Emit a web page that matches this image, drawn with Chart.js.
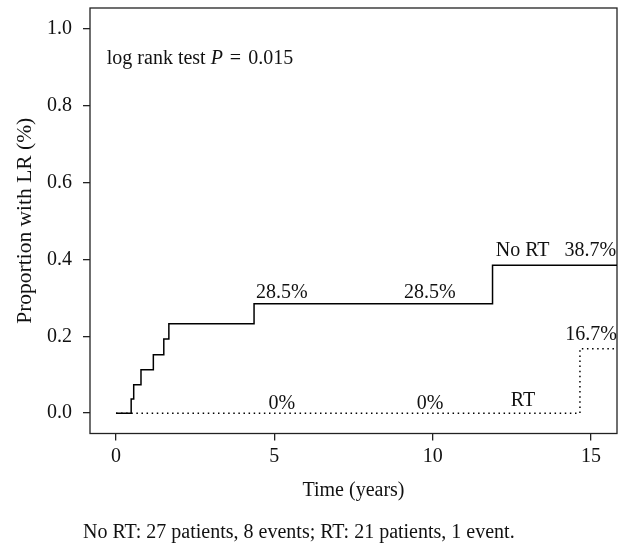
<!DOCTYPE html>
<html>
<head>
<meta charset="utf-8">
<script src="https://cdn.jsdelivr.net/npm/chart.js@4"></script>
<style>
  body { margin: 0; background: #fff; }
  #wrap { position: relative; width: 621px; height: 548px; }
  #note {
    position: absolute; left: 83px; top: 519px;
    font: 20px "Liberation Serif", "Times New Roman", serif;
    line-height: 24px; color: #111; white-space: nowrap;
  }
</style>
</head>
<body>
<div id="wrap">
  <canvas id="km-chart" width="621" height="548"></canvas>
  <div id="note">No RT: 27 patients, 8 events; RT: 21 patients, 1 event.</div>
</div>
<script>
// cumulative proportion with local recurrence
const noRtTimes = [0, 0.48, 0.56, 0.79, 1.18, 1.51, 1.67, 4.36, 11.89, 15.82];
const noRtRisk  = [0, 0.037, 0.074, 0.113, 0.152, 0.193, 0.233, 0.285, 0.385, 0.385];
const rtTimes = [0, 14.65, 15.82];
const rtRisk  = [0, 0.168, 0.168];
const xTicks = [0, 5, 10, 15];
const yTicks = [0, 0.2, 0.4, 0.6, 0.8, 1.0];

const font = '"Liberation Serif", "Times New Roman", serif';
const ink = '#111';

// text labels placed in data coordinates (alphabetic baseline)
const labels = [
    { text: '28.5%', x: 5.24, y: 0.299 },
    { text: '28.5%', x: 9.91, y: 0.299 },
    { text: 'No RT', x: 12.84, y: 0.409 },
    { text: '38.7%', x: 14.98, y: 0.409 },
    { text: '16.7%', x: 15.0, y: 0.1915 },
    { text: 'RT', x: 12.85, y: 0.0175 },
    { text: '0%', x: 5.24, y: 0.0097 },
    { text: '0%', x: 9.92, y: 0.0097 },
];

const toPoints = (xs, ys) => xs.map((t, i) => ({ x: t, y: ys[i] }));

const framePlugin = {
    id: 'frame',
    beforeDatasetsDraw(chart) {
        const a = chart.chartArea;
        const ctx = chart.ctx;
        ctx.save();
        ctx.strokeStyle = '#222';
        ctx.lineWidth = 1.3;
        ctx.strokeRect(a.left, a.top, a.right - a.left, a.bottom - a.top);
        ctx.restore();
    }
};

const labelPlugin = {
    id: 'kmLabels',
    afterDatasetsDraw(chart) {
        const ctx = chart.ctx;
        const xs = chart.scales.x, ys = chart.scales.y;
        ctx.save();
        ctx.fillStyle = ink;
        ctx.textBaseline = 'alphabetic';
        ctx.font = '20px ' + font;
        ctx.textAlign = 'center';
        labels.forEach(l => {
            ctx.fillText(l.text, xs.getPixelForValue(l.x), ys.getPixelForValue(l.y));
        });
        // log rank note with italic P, a bit of extra room around "="
        let px = xs.getPixelForValue(-0.29);
        const py = ys.getPixelForValue(0.910);
        ctx.textAlign = 'left';
        const parts = [['log rank test ', '', 0], ['P', 'italic ', 2], ['=', '', 2], ['0.015', '', 0]];
        parts.forEach(([s, st, gap]) => {
            ctx.font = st + '20px ' + font;
            ctx.fillText(s, px, py);
            px += ctx.measureText(s).width + gap + (s === 'P' || s === '=' ? ctx.measureText(' ').width : 0);
        });
        ctx.restore();
    }
};

const ctx = document.getElementById('km-chart').getContext('2d');
new Chart(ctx, {
    type: 'line',
    data: {
        datasets: [{
            label: 'No RT',
            data: toPoints(noRtTimes, noRtRisk),
            borderColor: '#000',
            borderWidth: 1.5,
            stepped: 'before',
            pointRadius: 0,
            fill: false,
        }, {
            label: 'RT',
            data: toPoints(rtTimes, rtRisk),
            borderColor: '#000',
            borderWidth: 1.5,
            borderDash: [1.5, 3.6],
            stepped: 'before',
            pointRadius: 0,
            fill: false,
        }]
    },
    options: {
        responsive: false,
        animation: false,
        layout: { padding: { left: 0, right: 4, top: 8, bottom: 0 } },
        plugins: {
            legend: { display: false },
            tooltip: { enabled: false },
        },
        scales: {
            x: {
                type: 'linear',
                min: -0.82,
                max: 15.82,
                afterFit: s => { s.height = 114.5; s.paddingLeft = 0; s.paddingRight = 0; },
                afterBuildTicks: s => { s.ticks = xTicks.map(v => ({ value: v })); },
                grid: { drawOnChartArea: false, tickLength: 7, color: '#222', lineWidth: 1.3 },
                border: { display: false },
                ticks: {
                    padding: 4,
                    color: ink,
                    font: { family: font, size: 20 },
                    callback: v => String(v),
                },
                title: {
                    display: true,
                    text: 'Time (years)',
                    color: ink,
                    font: { family: font, size: 20 },
                    padding: { top: 0, bottom: 45 },
                }
            },
            y: {
                min: -0.053,
                max: 1.055,
                afterFit: s => { s.width = 90; s.paddingTop = 0; s.paddingBottom = 0; },
                afterBuildTicks: s => { s.ticks = yTicks.map(v => ({ value: v })); },
                grid: { drawOnChartArea: false, tickLength: 7, color: '#222', lineWidth: 1.3 },
                border: { display: false },
                ticks: {
                    padding: 11,
                    color: ink,
                    font: { family: font, size: 20 },
                    callback: v => v.toFixed(1),
                },
                title: {
                    display: true,
                    text: 'Proportion with LR (%)',
                    color: ink,
                    font: { family: font, size: 21.5 },
                    padding: { top: 12, bottom: 0 },
                }
            }
        }
    },
    plugins: [framePlugin, labelPlugin]
});
</script>
</body>
</html>
